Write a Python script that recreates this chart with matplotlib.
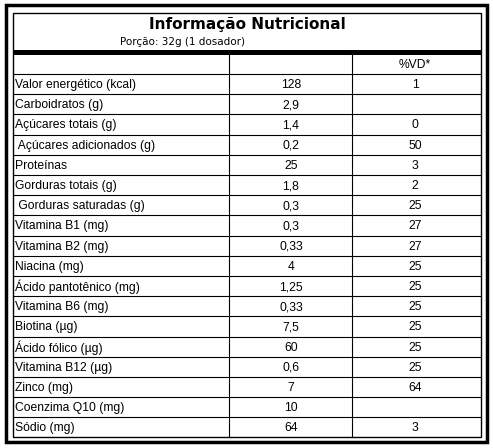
import matplotlib.pyplot as plt
from matplotlib.patches import Rectangle

title = "Informação Nutricional"
portion = "Porção: 32g (1 dosador)"
header_vd = "%VD*"
nutrients = ["Valor energético (kcal)", "Carboidratos (g)", "Açúcares totais (g)",
             " Açúcares adicionados (g)", "Proteínas", "Gorduras totais (g)",
             " Gorduras saturadas (g)", "Vitamina B1 (mg)", "Vitamina B2 (mg)",
             "Niacina (mg)", "Ácido pantotênico (mg)", "Vitamina B6 (mg)",
             "Biotina (µg)", "Ácido fólico (µg)", "Vitamina B12 (µg)", "Zinco (mg)",
             "Coenzima Q10 (mg)", "Sódio (mg)"]
amounts = ["128", "2,9", "1,4", "0,2", "25", "1,8", "0,3", "0,3", "0,33", "4",
           "1,25", "0,33", "7,5", "60", "0,6", "7", "10", "64"]
vd = ["1", "", "0", "50", "3", "2", "25", "27", "27", "25", "25", "25", "25",
      "25", "25", "64", "", "3"]

W, H = 493, 448
fig = plt.figure(figsize=(W / 100, H / 100), dpi=100)
ax = fig.add_axes([0, 0, 1, 1])
ax.set_xlim(0, W)
ax.set_ylim(H, 0)
ax.axis("off")

# frames
ax.add_patch(Rectangle((5.5, 5.5), 481, 437, fill=False, lw=2.5, color="black"))
L, R, T, B = 13, 481, 13, 437.5
ax.add_patch(Rectangle((L, T), R - L, B - T, fill=False, lw=1, color="black"))
ax.add_patch(Rectangle((L, 50), R - L, 5, color="black", lw=0))

ax.text(247, 24, title, ha="center", va="center", fontsize=11, fontweight="bold",
        family="DejaVu Sans")
ax.text(120, 42, portion, ha="left", va="center", fontsize=7.5, family="DejaVu Sans")

top = 55
row_h = (B - 74) / len(nutrients)
rows_y = [top, 74] + [74 + row_h * (i + 1) for i in range(len(nutrients))]
for y in rows_y[1:-1]:
    ax.plot([L, R], [y, y], color="black", lw=0.8)
for x in (229, 352):
    ax.plot([x, x], [top, B], color="black", lw=0.8)

font = dict(fontsize=8.7, family="Liberation Sans", va="center")
ax.text(415, (top + 74) / 2 + 1, header_vd, ha="center", **font)
for i, (n, a, v) in enumerate(zip(nutrients, amounts, vd)):
    yc = 74 + row_h * (i + 0.5) + 1
    ax.text(15, yc, n, ha="left", **font)
    ax.text(291, yc, a, ha="center", **font)
    ax.text(415, yc, v, ha="center", **font)

fig.savefig("out.png", dpi=100)
